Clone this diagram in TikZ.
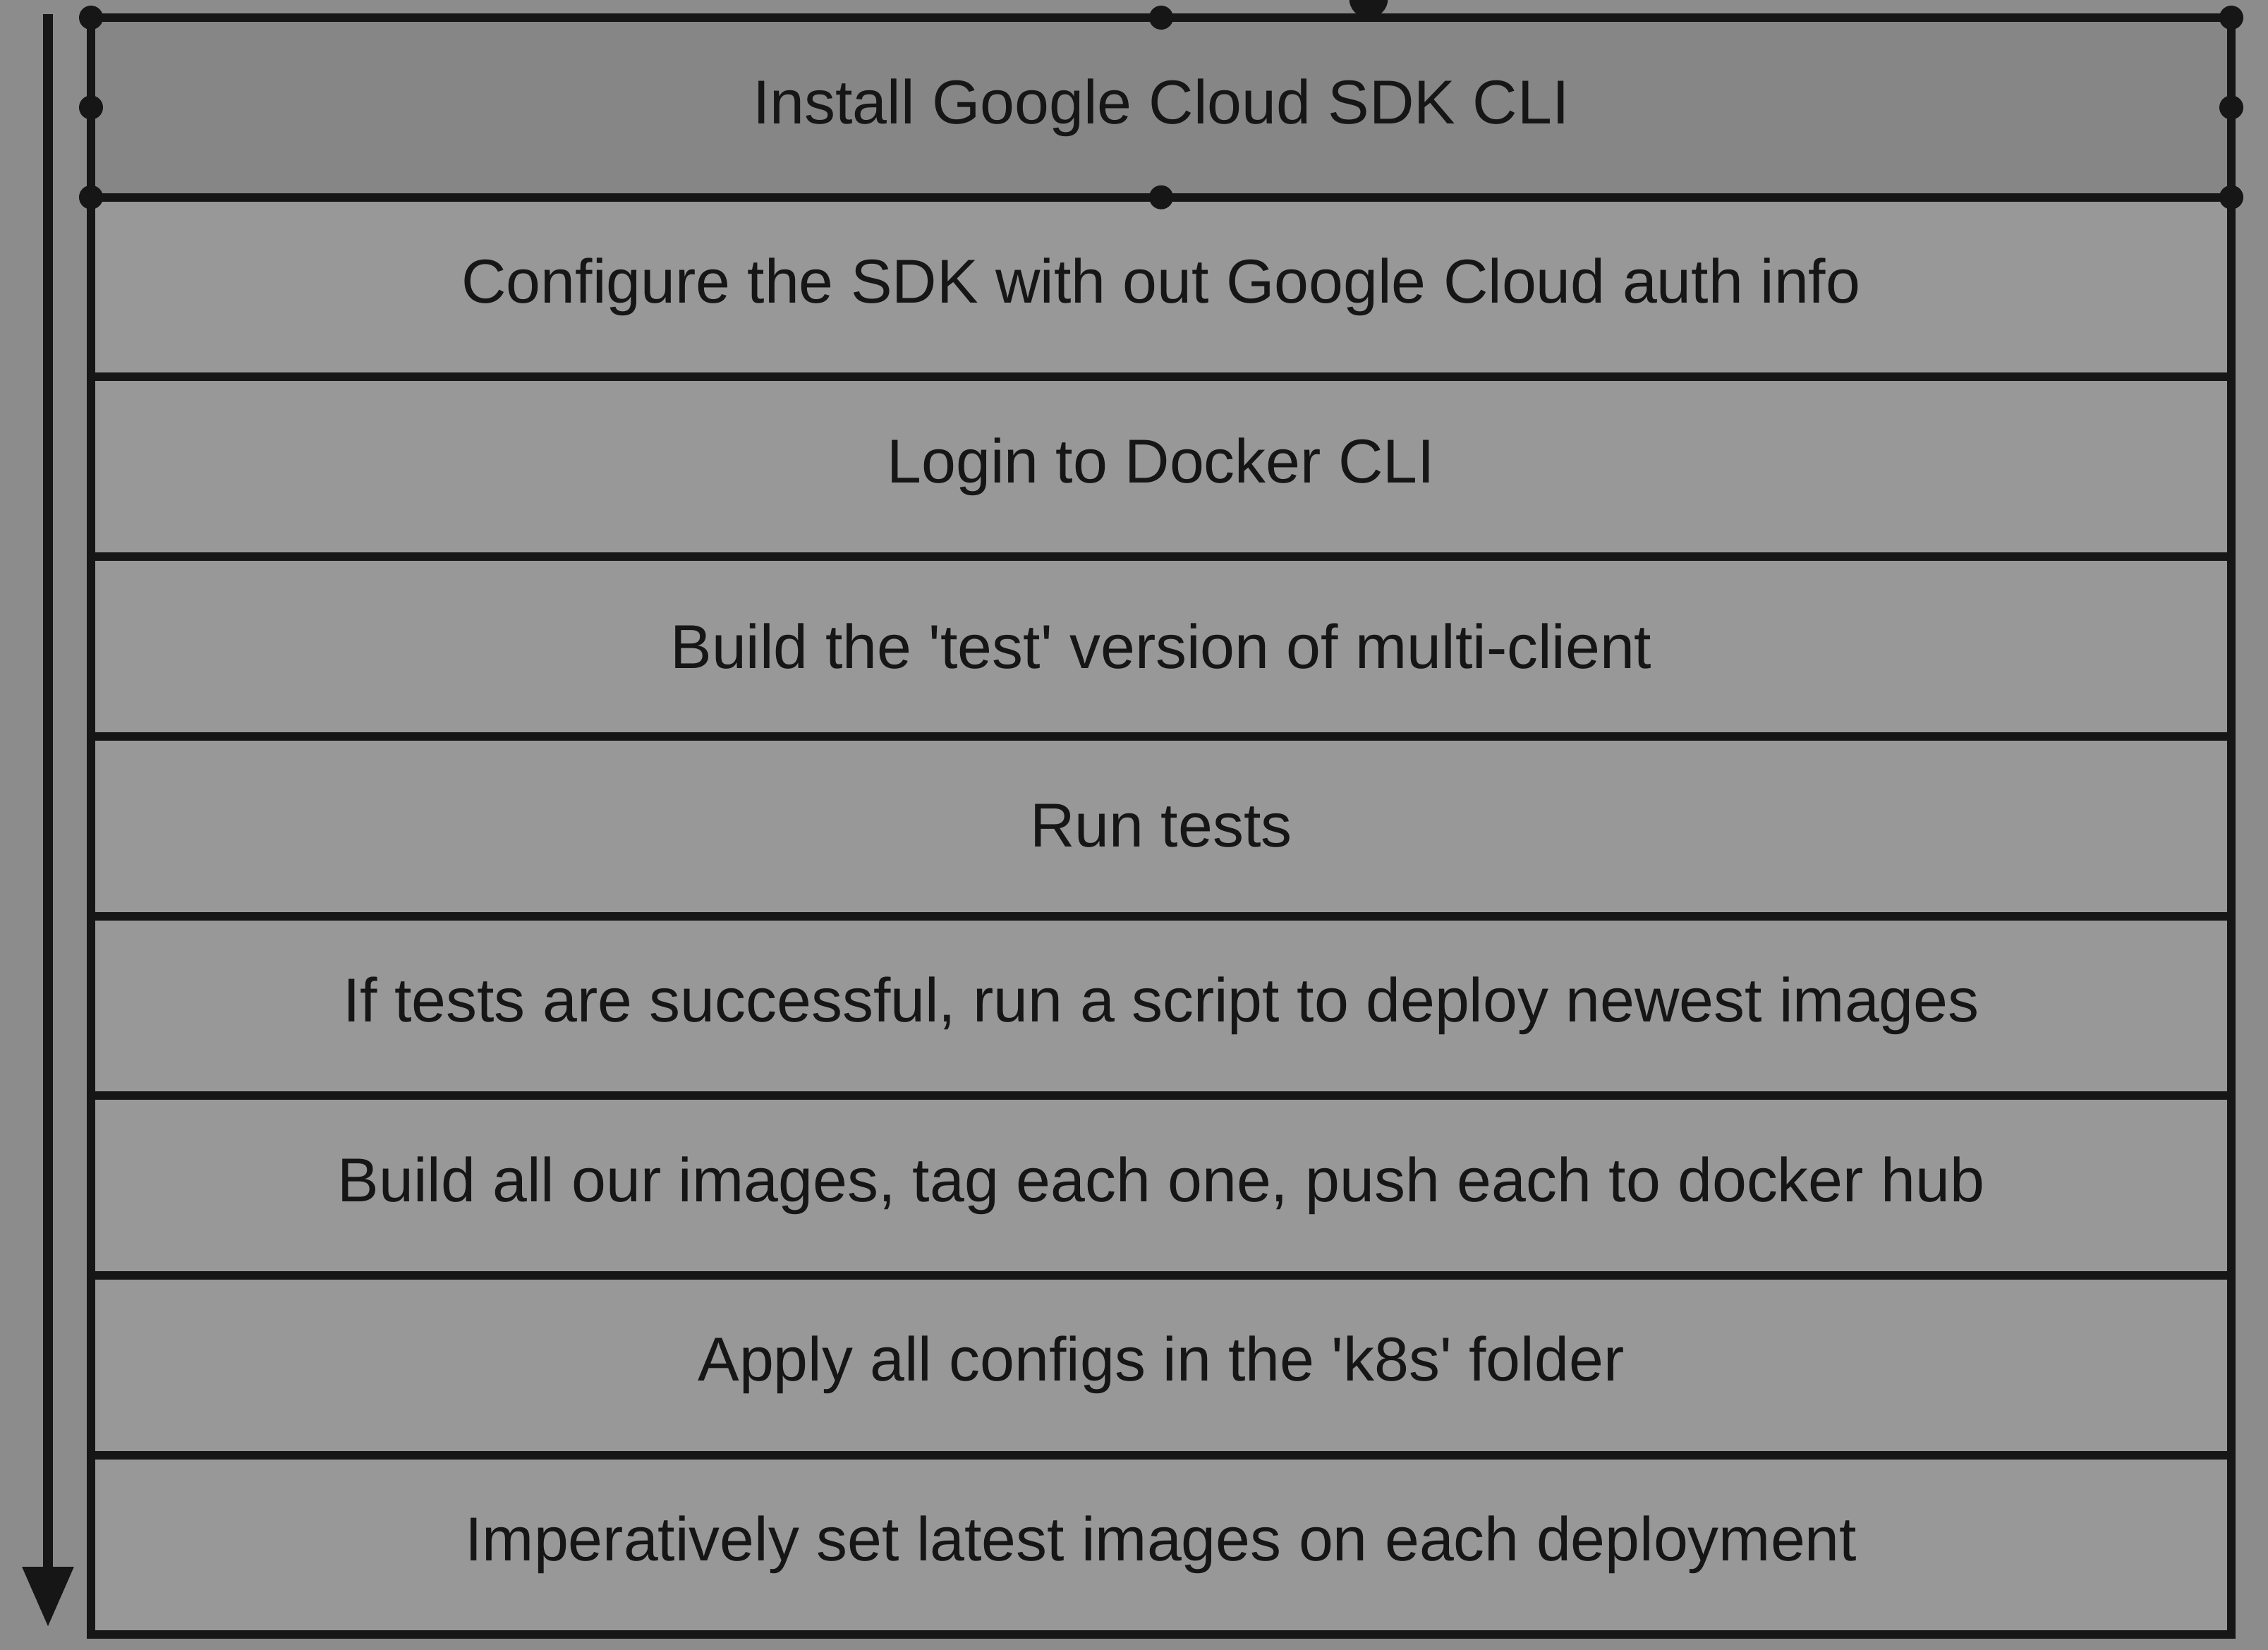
\documentclass[tikz,border=0pt]{standalone}
\usepackage{fontspec}
\setmainfont{Liberation Sans}
\usetikzlibrary{arrows.meta}
\definecolor{bggray}{RGB}{140,140,140}
\definecolor{boxgray}{RGB}{152,152,152}
\definecolor{selgray}{RGB}{134,134,134}
\definecolor{inkc}{RGB}{22,22,22}
\newcommand{\sq}{\textquotesingle}
\tikzset{
  stepbox/.style={draw=inkc, line width=0.12cm, fill=boxgray, minimum width=30.34cm,
    minimum height=2.547cm, inner sep=0pt, outer sep=0pt, anchor=north,
    font=\fontsize{25}{30}\selectfont, text=inkc},
  selbox/.style={stepbox, fill=selgray},
  handle/.style={fill=inkc, draw=none, circle, minimum size=0.34cm, inner sep=0pt},
  flow/.style={draw=inkc, line width=0.13cm, -{Triangle[width=0.7cm,length=0.85cm]}}
}
\begin{document}
\begin{tikzpicture}
\useasboundingbox[fill=bggray] (0,0) rectangle (32.15,-23.39);
\node[selbox]  (s1) at (16.46,-0.25) {Install Google Cloud SDK CLI};
\node[stepbox] (s2) at (s1.south) {Configure the SDK with out Google Cloud auth info};
\node[stepbox] (s3) at (s2.south) {Login to Docker CLI};
\node[stepbox] (s4) at (s3.south) {Build the \sq test\sq{} version of multi-client};
\node[stepbox] (s5) at (s4.south) {Run tests};
\node[stepbox] (s6) at (s5.south) {If tests are successful, run a script to deploy newest images};
\node[stepbox] (s7) at (s6.south) {Build all our images, tag each one, push each to docker hub};
\node[stepbox] (s8) at (s7.south) {Apply all configs in the \sq k8s\sq{} folder};
\node[stepbox] (s9) at (s8.south) {Imperatively set latest images on each deployment};
% selection handles of the first box
\foreach \a [count=\i] in {north west,west,south west,north,south,north east,east,south east}
  \node[handle] (h\i) at (s1.\a) {};
\node[handle, minimum size=0.55cm] (rot) at (19.4,0.02) {};
% flow arrow
\coordinate (as) at (0.68,-0.20);
\coordinate (ae) at (0.68,-23.06);
\draw[flow] (as) -- (ae);
\end{tikzpicture}
\end{document}
